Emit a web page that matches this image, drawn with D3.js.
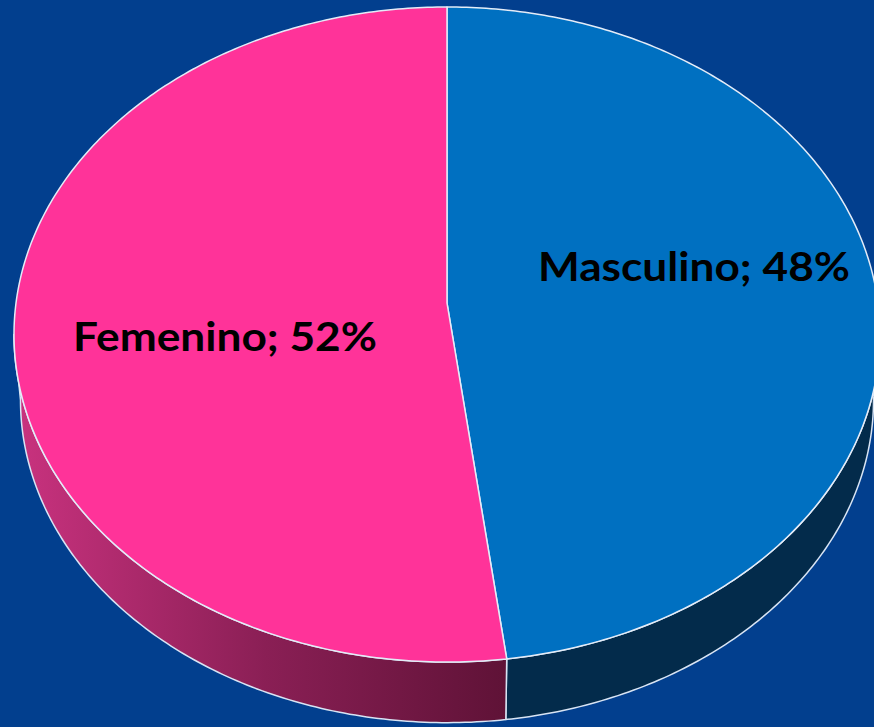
<!DOCTYPE html>
<html>
<head>
<script src="https://cdn.jsdelivr.net/npm/d3@7"></script>
<style>
  body { margin: 0; padding: 0; background: #023f8e; }
  svg { display: block; }
</style>
</head>
<body>
<div id="viz"></div>
<script>
// data
var categories = ["Masculino", "Femenino"];
var shares = [48, 52];
var labels = ["Masculino; 48%", "Femenino; 52%"];

var W = 874, H = 727;
// simple perspective: disk centre lands at (cx, cy), far side is squeezed by k
var cx = 447, cy = 303, A = 431, B = 324.5, k = 0.0962;
var depth = 66, shrink = 0.985;

var svg = d3.select("#viz").append("svg")
  .attr("width", W).attr("height", H);

svg.append("rect").attr("width", W).attr("height", H).attr("fill", "#023f8e");

var defs = svg.append("defs");
var g1 = defs.append("linearGradient").attr("id", "pinkSide")
  .attr("gradientUnits", "userSpaceOnUse")
  .attr("x1", 20).attr("y1", 0).attr("x2", 512).attr("y2", 0);
g1.append("stop").attr("offset", 0).attr("stop-color", "#c8327e");
g1.append("stop").attr("offset", 0.5).attr("stop-color", "#8a1f55");
g1.append("stop").attr("offset", 1).attr("stop-color", "#5e1236");

var topColors = ["#0070c1", "#ff3399"];
var sideFill = ["#032b4b", "url(#pinkSide)"];

var pie = d3.pie().sort(null).value(function(d) { return d; });
var arcs = pie(shares);

// projected rim point, angle clockwise from 12 o'clock (far side)
function pt(a, bottom) {
  var u = Math.sin(a), v = Math.cos(a), w = 1 + k * v;
  var s = bottom ? shrink : 1, oy = bottom ? depth : 0;
  return [cx + s * A * u / w, cy + oy - s * B * v / w];
}
function arcPts(a0, a1, bottom) {
  var n = Math.max(2, Math.ceil(Math.abs(a1 - a0) * 80)), out = [];
  for (var i = 0; i <= n; i++) out.push(pt(a0 + (a1 - a0) * i / n, bottom));
  return out;
}
var line = d3.line();

// side walls, front part between the two silhouette angles
var sil0 = Math.acos(-k), sil1 = 2 * Math.PI - sil0;
arcs.forEach(function(d, i) {
  var a0 = Math.max(d.startAngle, sil0);
  var a1 = Math.min(d.endAngle, sil1);
  if (a1 <= a0) return;
  var p = arcPts(a0, a1, false).concat(arcPts(a1, a0, true));
  svg.append("path")
    .attr("d", line(p) + "Z")
    .attr("fill", sideFill[i])
    .attr("stroke", "#d8e4f4").attr("stroke-width", 1.5)
    .attr("stroke-linejoin", "round");
});

// top slices
arcs.forEach(function(d, i) {
  var p = [[cx, cy]].concat(arcPts(d.startAngle, d.endAngle, false));
  svg.append("path")
    .attr("d", line(p) + "Z")
    .attr("fill", topColors[i])
    .attr("stroke", "#e4ecf8").attr("stroke-width", 1.5)
    .attr("stroke-linejoin", "round");
});

// labels
var labelPos = [[694, 281], [225, 351]];
var labelWidth = [312, 304];
labels.forEach(function(t, i) {
  svg.append("text")
    .attr("x", labelPos[i][0]).attr("y", labelPos[i][1])
    .attr("text-anchor", "middle")
    .attr("font-family", "Lato, 'Open Sans', sans-serif")
    .attr("font-weight", "bold")
    .attr("font-size", 41)
    .attr("textLength", labelWidth[i])
    .attr("lengthAdjust", "spacingAndGlyphs")
    .attr("fill", "#000")
    .text(t);
});
</script>
</body>
</html>
